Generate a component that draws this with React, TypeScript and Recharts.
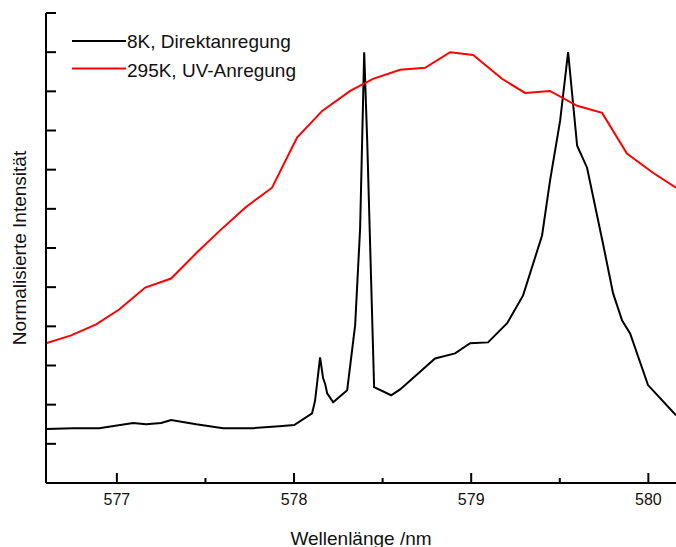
import { Line, LineChart, XAxis, YAxis, Legend, Label } from "recharts"

// Wellenlänge (nm) und normierte Intensität
const lambda8K = [
  576.6, 576.753, 576.9, 577.092, 577.165, 577.25, 577.306, 577.448, 577.6, 577.769,
  577.916, 578.001, 578.102, 578.119, 578.147, 578.164, 578.176, 578.187, 578.221, 578.3,
  578.345, 578.373, 578.396, 578.413, 578.452, 578.548, 578.599, 578.796, 578.909, 578.994,
  579.095, 579.203, 579.293, 579.4, 579.445, 579.502, 579.547, 579.598, 579.654, 579.744,
  579.801, 579.852, 579.897, 579.998, 580.156,
]
const intensity8K = [
  0.038, 0.04, 0.04, 0.053, 0.05, 0.053, 0.061, 0.05, 0.04, 0.04,
  0.045, 0.048, 0.078, 0.111, 0.221, 0.168, 0.152, 0.129, 0.106, 0.137,
  0.303, 0.55, 1.0, 0.774, 0.145, 0.124, 0.139, 0.218, 0.231, 0.257,
  0.259, 0.308, 0.379, 0.532, 0.672, 0.825, 1.0, 0.761, 0.705, 0.511,
  0.384, 0.315, 0.282, 0.15, 0.073,
]

const lambda295K = [
  576.6, 576.742, 576.883, 577.013, 577.16, 577.306, 577.453, 577.583, 577.724, 577.876,
  578.017, 578.159, 578.317, 578.446, 578.599, 578.74, 578.881, 579.011, 579.174, 579.304,
  579.445, 579.598, 579.739, 579.879, 580.026, 580.156,
]
const intensity295K = [
  0.257, 0.277, 0.305, 0.343, 0.399, 0.422, 0.489, 0.545, 0.603, 0.654,
  0.782, 0.85, 0.901, 0.932, 0.955, 0.96, 1.0, 0.993, 0.932, 0.896,
  0.901, 0.863, 0.845, 0.741, 0.692, 0.654,
]

const seriesNames = ["8K, Direktanregung", "295K, UV-Anregung"]
const xTicks = [577, 577.5, 578, 578.5, 579, 579.5, 580]
const yTicks = [-0.1, 0, 0.1, 0.2, 0.3, 0.4, 0.5, 0.6, 0.7, 0.8, 0.9, 1.0, 1.1]

const data8K = lambda8K.map((x, i) => ({ x, y: intensity8K[i] }))
const data295K = lambda295K.map((x, i) => ({ x, y: intensity295K[i] }))

const font = "'Liberation Sans', Arial, sans-serif"

// Ticks zeigen nach innen: Hauptticks lang, Nebenticks kurz
function XTick({ x, y, payload }: any) {
  const major = Number.isInteger(payload.value)
  return (
    <g>
      <line x1={x} y1={y} x2={x} y2={y - (major ? 10 : 5)} stroke="#000" strokeWidth={2} />
      {major && (
        <text x={x} y={y + 22} textAnchor="middle" fontSize={16} fontFamily={font} fill="#111">
          {payload.value}
        </text>
      )}
    </g>
  )
}

function YTick({ x, y }: any) {
  return <line x1={x} y1={y} x2={x + 10} y2={y} stroke="#000" strokeWidth={2} />
}

function renderLegend(props: any) {
  const items = [...props.payload].sort(
    (a: any, b: any) => seriesNames.indexOf(a.value) - seriesNames.indexOf(b.value)
  )
  return (
    <svg width={260} height={60}>
      {items.map((entry: any, i: number) => (
        <g key={entry.value}>
          <line x1={1} x2={55} y1={12 + i * 27.5} y2={12 + i * 27.5} stroke={entry.color} strokeWidth={2} />
          <text x={56} y={19 + i * 28.5} fontSize={19} fontFamily={font} fill="#111">
            {entry.value}
          </text>
        </g>
      ))}
    </svg>
  )
}

export default function App() {
  return (
    <div style={{ position: "absolute", left: 0, top: 0, background: "#fff" }}>
      <LineChart width={676} height={547} margin={{ top: 13, right: 0, bottom: 0, left: 0 }}>
        <XAxis
          dataKey="x"
          type="number"
          domain={[576.6, 580.156]}
          allowDataOverflow
          ticks={xTicks}
          interval={0}
          tickSize={0}
          tickMargin={0}
          tickLine={false}
          tick={<XTick />}
          height={64}
          axisLine={{ stroke: "#000", strokeWidth: 2 }}
        >
          <Label
            value="Wellenlänge /nm"
            position="insideBottom"
            offset={2}
            style={{ fontSize: 19, fontFamily: font, fill: "#111" }}
          />
        </XAxis>
        <YAxis
          dataKey="y"
          type="number"
          domain={[-0.1, 1.1]}
          allowDataOverflow
          ticks={yTicks}
          interval={0}
          width={46}
          tickSize={0}
          tickMargin={0}
          tickLine={false}
          tick={<YTick />}
          axisLine={{ stroke: "#000", strokeWidth: 2 }}
        >
          <Label
            value="Normalisierte Intensität"
            angle={-90}
            position="insideLeft"
            offset={19}
            style={{ fontSize: 19, fontFamily: font, fill: "#111", textAnchor: "middle" }}
          />
        </YAxis>
        <Legend
          layout="vertical"
          align="center"
          verticalAlign="middle"
          content={renderLegend}
          wrapperStyle={{ left: 71, top: 29, width: 260 }}
        />
        <Line
          data={data8K}
          dataKey="y"
          name={seriesNames[0]}
          type="linear"
          stroke="#000000"
          strokeWidth={2}
          dot={false}
          isAnimationActive={false}
        />
        <Line
          data={data295K}
          dataKey="y"
          name={seriesNames[1]}
          type="linear"
          stroke="#ff0000"
          strokeWidth={2}
          dot={false}
          isAnimationActive={false}
        />
      </LineChart>
    </div>
  )
}
